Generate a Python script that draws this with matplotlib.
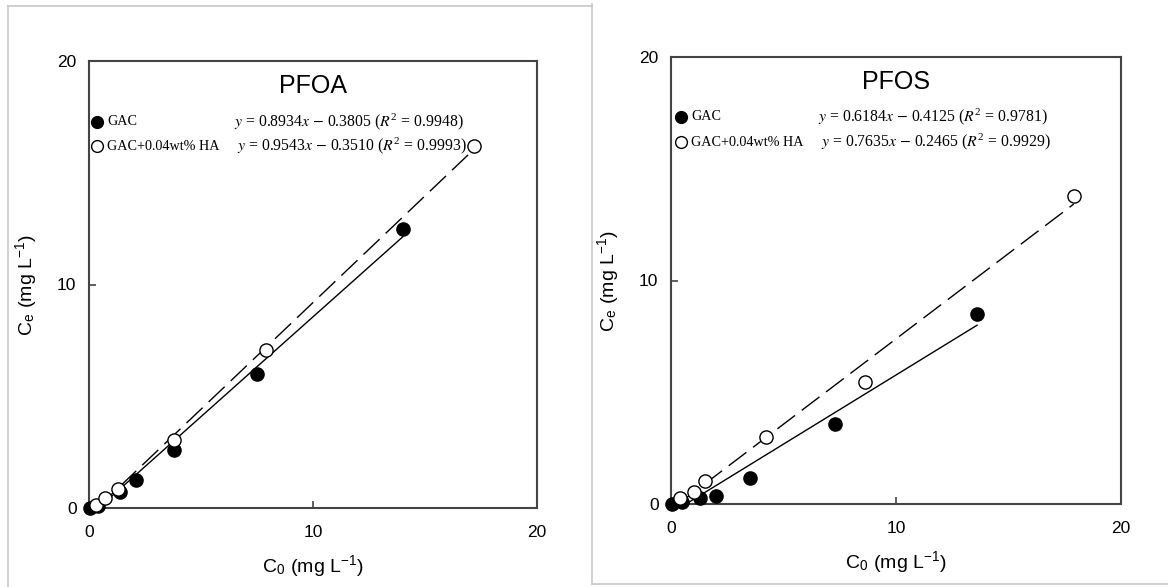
import numpy as np
import matplotlib
matplotlib.use('Agg')
import matplotlib.pyplot as plt
from matplotlib.lines import Line2D

plt.rcParams['font.family'] = ['Liberation Sans', 'DejaVu Sans']
plt.rcParams['mathtext.fontset'] = 'stix'

# PFOA data
pfoa_gac_c0 = [0.05, 0.4, 1.4, 2.1, 3.8, 7.5, 14.0]
pfoa_gac_ce = [0.02, 0.1, 0.72, 1.25, 2.6, 6.0, 12.5]
pfoa_ha_c0 = [0.3, 0.7, 1.3, 3.8, 7.9, 17.2]
pfoa_ha_ce = [0.15, 0.45, 0.85, 3.04, 7.07, 16.2]
pfoa_fit = [(0.8934, -0.3805, 0.4, 14.0), (0.9543, -0.3510, 0.4, 17.2)]
pfoa_eq = [r'$\mathit{y}$ = 0.8934$\mathit{x}$ $-$ 0.3805 ($\mathit{R}^\mathregular{2}$ = 0.9948)',
           r'$\mathit{y}$ = 0.9543$\mathit{x}$ $-$ 0.3510 ($\mathit{R}^\mathregular{2}$ = 0.9993)']

# PFOS data
pfos_gac_c0 = [0.05, 0.5, 1.3, 2.0, 3.5, 7.3, 13.6]
pfos_gac_ce = [0.02, 0.1, 0.27, 0.36, 1.16, 3.6, 8.5]
pfos_ha_c0 = [0.4, 1.0, 1.5, 4.2, 8.6, 17.9]
pfos_ha_ce = [0.27, 0.54, 1.03, 3.0, 5.46, 13.8]
pfos_fit = [(0.6184, -0.4125, 0.7, 13.6), (0.7635, -0.2465, 0.4, 17.9)]
pfos_eq = [r'$\mathit{y}$ = 0.6184$\mathit{x}$ $-$ 0.4125 ($\mathit{R}^\mathregular{2}$ = 0.9781)',
           r'$\mathit{y}$ = 0.7635$\mathit{x}$ $-$ 0.2465 ($\mathit{R}^\mathregular{2}$ = 0.9929)']

labels = ['GAC', 'GAC+0.04wt% HA']

W, H = 1168, 587
fig = plt.figure(figsize=(W / 100, H / 100), dpi=100)


def fx(px):
    return px / W


def fy(py):
    return 1 - py / H


# panel borders
border = '#c8c8c8'
for xs, ys in [([8, 592], [6, 6]), ([8, 8], [6, 587]), ([592, 592], [4, 584]), ([592, 1168], [584, 584])]:
    fig.add_artist(Line2D([fx(v) for v in xs], [fy(v) for v in ys], color=border, lw=1.2))


def panel(box, title, gac, ha, fits, eqs, leg):
    ax = fig.add_axes(box)
    ax.plot(gac[0], gac[1], 'o', color='black', ms=9.5, zorder=3, clip_on=False)
    ax.plot(ha[0], ha[1], 'o', mfc='white', mec='black', mew=1, ms=9.5, zorder=4, clip_on=False)
    (a1, b1, s1, e1), (a2, b2, s2, e2) = fits
    x1 = np.array([s1, e1])
    ax.plot(x1, a1 * x1 + b1, '-', color='black', lw=1, zorder=2)
    x2 = np.array([s2, e2])
    ax.plot(x2, a2 * x2 + b2, color='black', lw=1, dashes=(16, 6), zorder=2)
    ax.set_xlim(0, 20)
    ax.set_ylim(0, 20)
    ax.set_xticks([0, 10, 20])
    ax.set_yticks([0, 10, 20])
    ax.tick_params(direction='in', length=5, labelsize=12.5, width=1.2, color='#444')
    ax.tick_params(axis='x', pad=12)
    ax.tick_params(axis='y', pad=9)
    for s in ax.spines.values():
        s.set_color('#444')
        s.set_linewidth(1.5)
    ax.text(0.5, 0.945, title, transform=ax.transAxes, ha='center', va='center', fontsize=18)
    ax.set_xlabel(r'C$_\mathregular{0}$ (mg L$^\mathregular{-1}$)', fontsize=14, va='center')
    ax.xaxis.set_label_coords(0.5, -0.132)
    ax.set_ylabel(r'C$_\mathregular{e}$ (mg L$^\mathregular{-1}$)', fontsize=14, va='center')
    ax.yaxis.set_label_coords(-0.138, 0.5)
    # legend
    mx, ty, eqx, dy = leg
    for i in range(2):
        yy = ty + i * dy
        fig.add_artist(Line2D([fx(mx)], [fy(yy)], marker='o', ms=8.5, mew=1,
                              mec='black', mfc='black' if i == 0 else 'white'))
        fig.text(fx(mx + 10), fy(yy), labels[i], fontsize=10.2, va='center',
                 fontfamily='Liberation Serif')
        fig.text(fx(eqx + (3 if i else 0)), fy(yy), eqs[i], fontsize=11.3, va='center',
                 fontfamily='Liberation Serif')
    return ax


panel([fx(89), fy(508), fx(537) - fx(89), fy(61) - fy(508)], 'PFOA',
      (pfoa_gac_c0, pfoa_gac_ce), (pfoa_ha_c0, pfoa_ha_ce), pfoa_fit, pfoa_eq,
      (97, 122, 234, 24))
panel([fx(671), fy(504), fx(1121) - fx(671), fy(57) - fy(504)], 'PFOS',
      (pfos_gac_c0, pfos_gac_ce), (pfos_ha_c0, pfos_ha_ce), pfos_fit, pfos_eq,
      (681, 117, 818, 25))

fig.savefig('out.png', dpi=100)
